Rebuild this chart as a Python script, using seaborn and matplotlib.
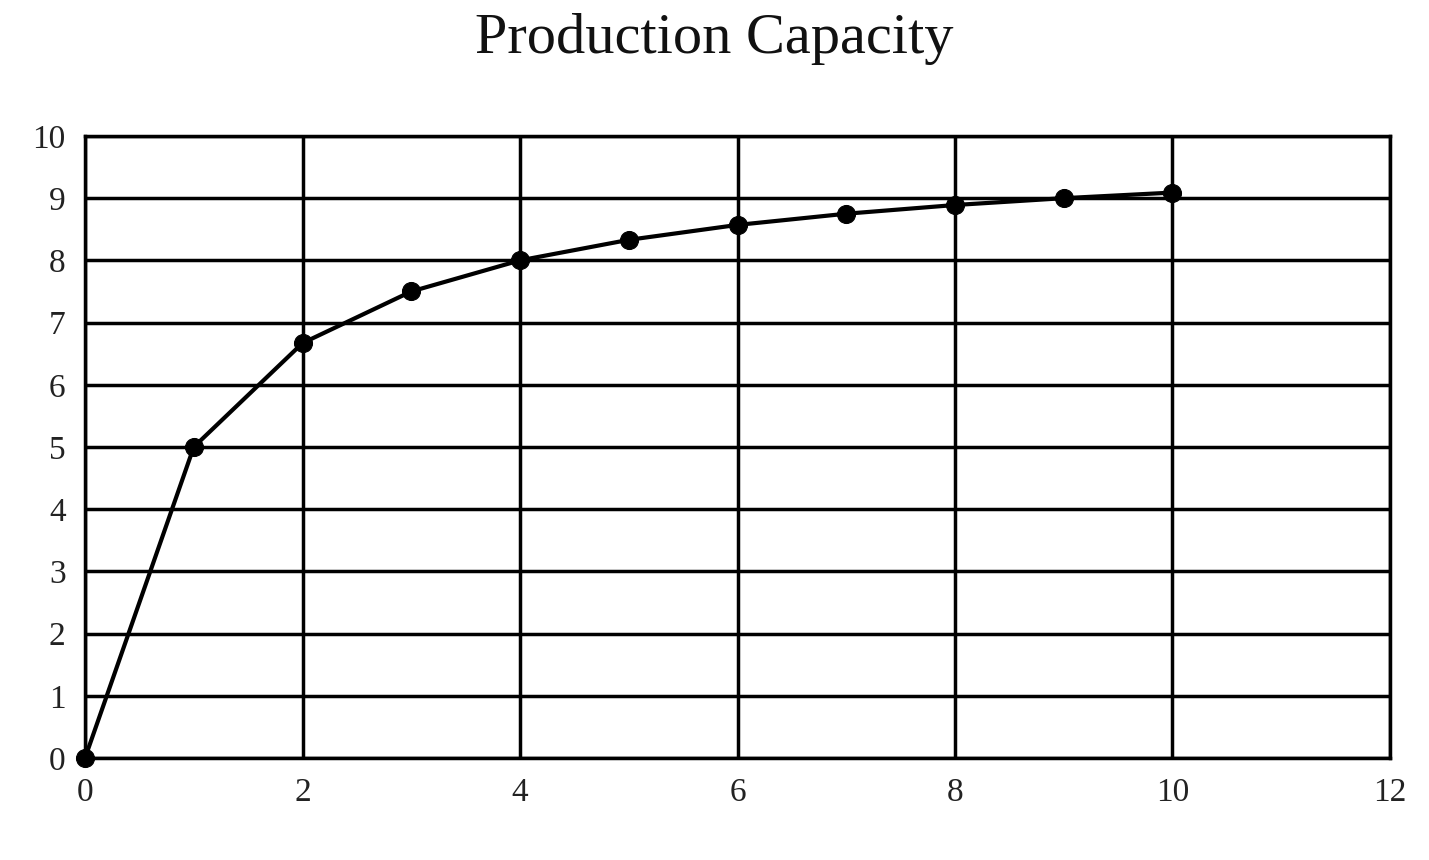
import matplotlib
matplotlib.use("Agg")
import matplotlib.pyplot as plt
import seaborn as sns
import pandas as pd

# data
x_vals = [0, 1, 2, 3, 4, 5, 6, 7, 8, 9, 10]
y_vals = [0, 5.0, 6.67, 7.5, 8.0, 8.33, 8.57, 8.75, 8.89, 9.0, 9.09]
x_ticks = [0, 2, 4, 6, 8, 10, 12]
y_ticks = [0, 1, 2, 3, 4, 5, 6, 7, 8, 9, 10]

df = pd.DataFrame({"x": x_vals, "y": y_vals})

sns.set_style("white")
plt.rcParams['font.family'] = ['Liberation Serif', 'DejaVu Serif']

fig = plt.figure(figsize=(14.29, 8.6), dpi=100)
ax = fig.add_axes([0.0595, 0.1186, 0.9132, 0.7233])

sns.lineplot(data=df, x="x", y="y", ax=ax, color="black", linewidth=3,
             marker="o", markersize=13, markeredgecolor="black", zorder=3)

ax.set_xlim(0, 12)
ax.set_ylim(0, 10)
ax.set_xticks(x_ticks)
ax.set_yticks(y_ticks)
ax.grid(True, color="black", linewidth=2.5)
for s in ax.spines.values():
    s.set_color("black")
    s.set_linewidth(2.5)
ax.tick_params(axis="both", labelsize=24, colors="#222222", length=0, pad=14)
ax.set_xlabel("")
ax.set_ylabel("")
for lab in ax.get_xticklabels() + ax.get_yticklabels():
    lab.set_clip_on(False)
for p in df.itertuples():
    pass
ax.get_lines()[0].set_clip_on(False)

fig.suptitle("Production Capacity", fontsize=42, y=0.985, color="#111111")

fig.savefig("out.png", dpi=100)
